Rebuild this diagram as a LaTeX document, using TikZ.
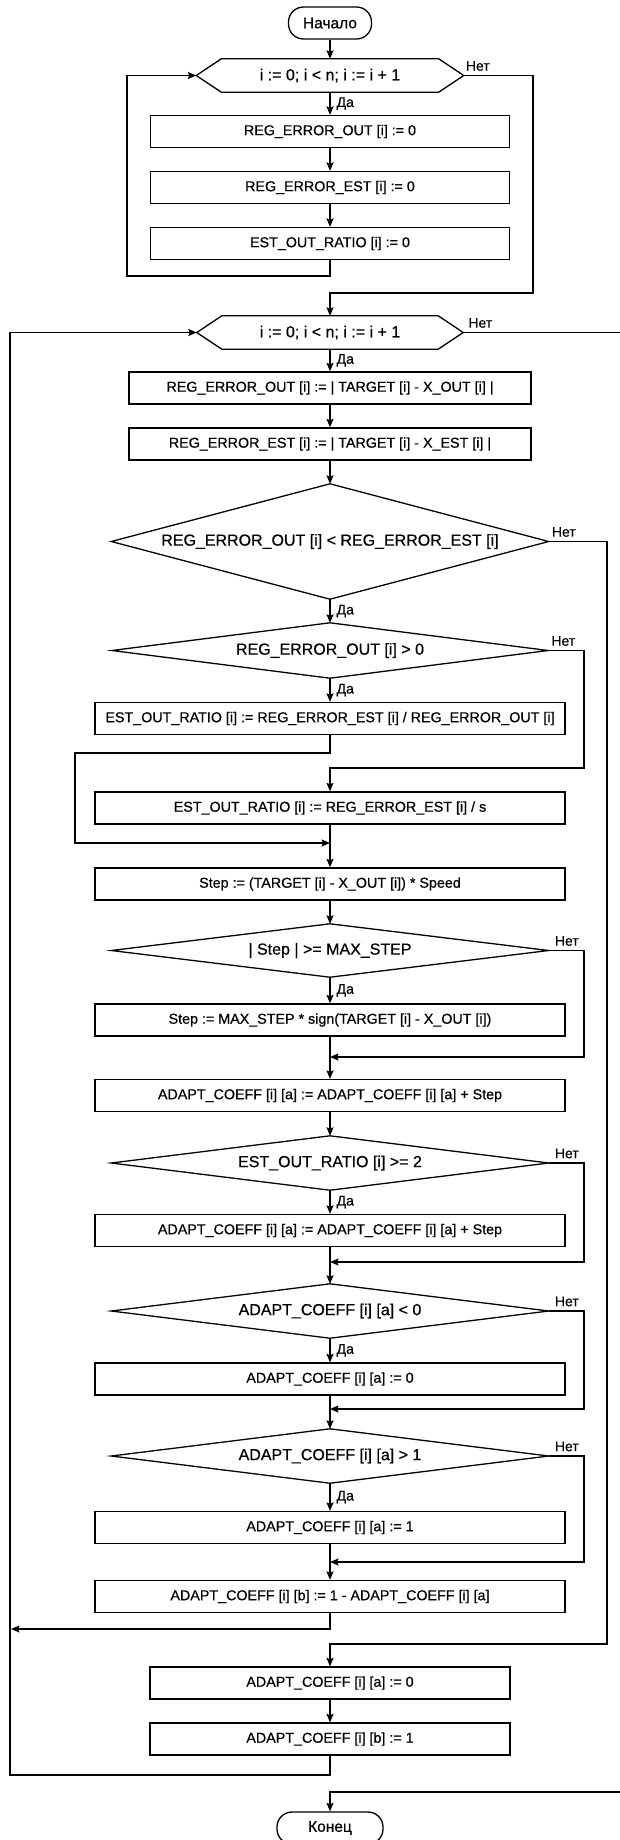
\documentclass[tikz,border=0pt]{standalone}
\usepackage{fontspec}
\setmainfont{Liberation Sans}[FakeBold=0.6]
\usetikzlibrary{arrows.meta}
\begin{document}
\begin{tikzpicture}[x=1pt,y=-1pt,
  every node/.style={font=\fontsize{14.3}{16}\selectfont, inner sep=0pt},
  ln/.style={line width=1.3pt},
  arr/.style={line width=1.3pt, -{Stealth[length=8.5pt,width=7pt,inset=1.5pt]}},
  proc/.style={draw, line width=1.3pt, rectangle, minimum height=32pt},
  term/.style={draw, line width=1.3pt, rectangle, rounded corners=15pt, minimum height=32pt, font=\fontsize{15.5}{17}\selectfont},
  shp/.style={rectangle, inner sep=0pt, font=\fontsize{16}{18}\selectfont},
  da/.style={anchor=west, xshift=6pt, font=\fontsize{14}{15}\selectfont},
  net/.style={anchor=south west, yshift=4.5pt, xshift=3pt, font=\fontsize{14}{15}\selectfont}
]
\useasboundingbox (0,0) rectangle (620,1840);
\clip (0,0) rectangle (620,1840);

% ---------- nodes ----------
\node[term, minimum width=83pt] (start) at (330,23) {Начало};
\node[shp, minimum width=267pt, minimum height=33pt] (L1) at (330,75.5) {i := 0; i < n; i := i + 1};
\node[proc, minimum width=359pt] (b1) at (330,131.5) {REG\_ERROR\_OUT [i] := 0};
\node[proc, minimum width=359pt] (b2) at (330,187.5) {REG\_ERROR\_EST [i] := 0};
\node[proc, minimum width=359pt] (b3) at (330,243.5) {EST\_OUT\_RATIO [i] := 0};
\node[shp, minimum width=266pt, minimum height=33pt] (L2) at (330,332.5) {i := 0; i < n; i := i + 1};
\node[proc, minimum width=402pt] (b4) at (330,388) {REG\_ERROR\_OUT [i] := | TARGET [i] - X\_OUT [i] |};
\node[proc, minimum width=402pt] (b5) at (330,444) {REG\_ERROR\_EST [i] := | TARGET [i] - X\_EST [i] |};
\node[shp, minimum width=437pt, minimum height=115pt] (D1) at (330,541.5) {REG\_ERROR\_OUT [i] < REG\_ERROR\_EST [i]};
\node[shp, minimum width=436pt, minimum height=55pt] (D2) at (330,650.5) {REG\_ERROR\_OUT [i] > 0};
\node[proc, minimum width=470pt] (b6) at (330,718.5) {EST\_OUT\_RATIO [i] := REG\_ERROR\_EST [i] / REG\_ERROR\_OUT [i]};
\node[proc, minimum width=470pt] (b7) at (330,808) {EST\_OUT\_RATIO [i] := REG\_ERROR\_EST [i] / s};
\node[proc, minimum width=470pt] (b8) at (330,884) {Step := (TARGET [i] - X\_OUT [i]) * Speed};
\node[shp, minimum width=437pt, minimum height=53pt] (D3) at (330,950.5) {| Step | >= MAX\_STEP};
\node[proc, minimum width=470pt] (b9) at (330,1020) {Step := MAX\_STEP * sign(TARGET [i] - X\_OUT [i])};
\node[proc, minimum width=470pt] (b10) at (330,1095.5) {ADAPT\_COEFF [i] [a] := ADAPT\_COEFF [i] [a] + Step};
\node[shp, minimum width=437pt, minimum height=54pt] (D4) at (330,1163) {EST\_OUT\_RATIO [i] >= 2};
\node[proc, minimum width=470pt] (b11) at (330,1230.5) {ADAPT\_COEFF [i] [a] := ADAPT\_COEFF [i] [a] + Step};
\node[shp, minimum width=437pt, minimum height=54pt] (D5) at (330,1311) {ADAPT\_COEFF [i] [a] < 0};
\node[proc, minimum width=470pt] (b12) at (330,1379) {ADAPT\_COEFF [i] [a] := 0};
\node[shp, minimum width=437pt, minimum height=54pt] (D6) at (330,1456) {ADAPT\_COEFF [i] [a] > 1};
\node[proc, minimum width=470pt] (b13) at (330,1527.5) {ADAPT\_COEFF [i] [a] := 1};
\node[proc, minimum width=470pt] (b14) at (330,1596.5) {ADAPT\_COEFF [i] [b] := 1 - ADAPT\_COEFF [i] [a]};
\node[proc, minimum width=360pt] (b15) at (330,1683) {ADAPT\_COEFF [i] [a] := 0};
\node[proc, minimum width=360pt] (b16) at (330,1739) {ADAPT\_COEFF [i] [b] := 1};
\node[term, minimum width=106pt] (end) at (330,1828) {Конец};

% ---------- shape outlines ----------
\foreach \h in {L1,L2}{
  \draw[ln] (\h.west) -- ([xshift=25pt]\h.north west) -- ([xshift=-25pt]\h.north east) -- (\h.east)
            -- ([xshift=-25pt]\h.south east) -- ([xshift=25pt]\h.south west) -- cycle;
}
\foreach \d in {D1,D2,D3,D4,D5,D6}{
  \draw[ln] (\d.north) -- (\d.east) -- (\d.south) -- (\d.west) -- cycle;
}

% ---------- bend coordinates ----------
\coordinate (l1) at (127,276);
\coordinate (r1) at (533,293);
\coordinate (r2) at (623,1792);
\coordinate (r3) at (607,1644);
\coordinate (r4) at (584,768);
\coordinate (l2) at (75,753);
\coordinate (m1) at (330,843);
\coordinate (r5) at (584,1057);
\coordinate (m2) at (330,1057);
\coordinate (r6) at (584,1262);
\coordinate (m3) at (330,1262);
\coordinate (r7) at (584,1409);
\coordinate (m4) at (330,1409);
\coordinate (r8) at (584,1562);
\coordinate (m5) at (330,1562);
\coordinate (l3) at (11,1629);
\coordinate (l4) at (10,1775);

% ---------- connectors ----------
\draw[arr] (start.south) -- (L1.north);
\draw[arr] (L1.south) -- node[da] (da1) {Да} (b1.north);
\draw[arr] (b1.south) -- (b2.north);
\draw[arr] (b2.south) -- (b3.north);
\draw[arr] (b3.south) |- (l1) |- (L1.west);
\draw[arr] (L1.east) -| (r1) -| (L2.north);
\node[net, xshift=-1pt] (n1) at (L1.east) {Нет};

\draw[arr] (L2.south) -- node[da] (da2) {Да} (b4.north);
\draw[arr] (b4.south) -- (b5.north);
\draw[arr] (b5.south) -- (D1.north);
\draw[arr] (L2.east) -| (r2) -| (end.north);
\node[net, xshift=2pt] (n2) at (L2.east) {Нет};

\draw[arr] (D1.south) -- node[da] (da3) {Да} (D2.north);
\draw[arr] (D1.east) -| (r3) -| (b15.north);
\node[net] (n3) at (D1.east) {Нет};

\draw[arr] (D2.south) -- node[da] (da4) {Да} (b6.north);
\draw[arr] (D2.east) -| (r4) -| (b7.north);
\node[net] (n4) at (D2.east) {Нет};
\draw[arr] (b6.south) |- (l2) |- (m1);
\draw[arr] (b7.south) -- (b8.north);
\draw[arr] (b8.south) -- (D3.north);

\draw[arr] (D3.south) -- node[da] (da5) {Да} (b9.north);
\draw[arr] (D3.east) -| (r5) -- (m2);
\node[net, xshift=3pt] (n5) at (D3.east) {Нет};
\draw[arr] (b9.south) -- (b10.north);
\draw[arr] (b10.south) -- (D4.north);

\draw[arr] (D4.south) -- node[da] (da6) {Да} (b11.north);
\draw[arr] (D4.east) -| (r6) -- (m3);
\node[net, xshift=3pt] (n6) at (D4.east) {Нет};
\draw[arr] (b11.south) -- (D5.north);

\draw[arr] (D5.south) -- node[da] (da7) {Да} (b12.north);
\draw[arr] (D5.east) -| (r7) -- (m4);
\node[net, xshift=3pt] (n7) at (D5.east) {Нет};
\draw[arr] (b12.south) -- (D6.north);

\draw[arr] (D6.south) -- node[da] (da8) {Да} (b13.north);
\draw[arr] (D6.east) -| (r8) -- (m5);
\node[net, xshift=3pt] (n8) at (D6.east) {Нет};
\draw[arr] (b13.south) -- (b14.north);
\draw[arr] (b14.south) |- (l3);

\draw[arr] (b15.south) -- (b16.north);
\draw[arr] (b16.south) |- (l4) |- (L2.west);
\end{tikzpicture}
\end{document}
